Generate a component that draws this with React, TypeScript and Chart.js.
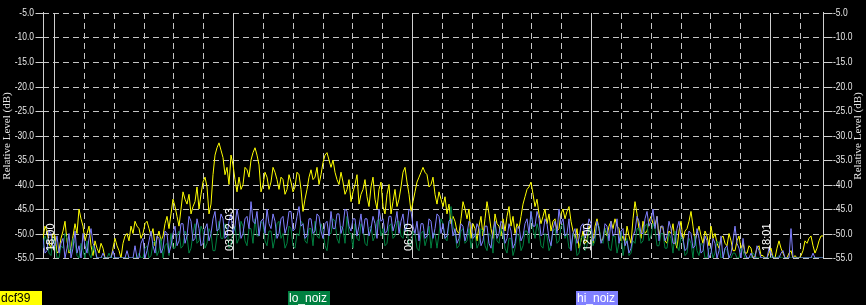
import React, { useEffect, useRef } from "react";
import { Chart, registerables } from "chart.js";

Chart.register(...registerables);

// ---- data ----
const seriesNames = ["dcf39", "lo_noiz", "hi_noiz"];
const seriesColors = ["#ffff00", "#008040", "#8080ff"];
const legendTextColors = ["#000000", "#ffffff", "#ffffff"];

// sample times: hours counted from midnight of the day before (one sample every ~4 min)
const startHour = 17.631;
const stepHours = 0.06704;

const dcf39 = [
  -51, -48.5, -49.5, -52, -53, -50, -50.5, -54, -53.5, -51, -49.5, -47.5, -51.5, -54, -53, -50.5, -48, -50, -45, -47,
  -48.5, -51.5, -50, -48.5, -52.5, -54.5, -51.5, -53, -54, -52, -53, -55, -55, -55, -55, -53, -51, -52.5, -53.5, -55,
  -52, -50.5, -50, -51.5, -48.5, -50, -47.5, -48.5, -49, -51, -50, -48, -47.5, -49, -50.5, -49, -52.5, -51, -49.5, -51.5,
  -50.5, -48, -46.5, -49, -46, -43, -44.5, -46.5, -48.5, -45, -41.5, -43, -44, -42, -46, -44.5, -43.5, -40.5, -45, -42,
  -39.5, -38.5, -40.5, -46, -44, -38, -34, -32.5, -31.5, -33, -34.5, -38, -36.5, -40, -34, -36, -39, -41.5, -38.5, -41,
  -40, -36.5, -37, -38.5, -35, -33.5, -32.5, -34, -36, -41.5, -40, -37.5, -38.5, -41, -39.5, -36.5, -37.5, -39, -41, -38.5,
  -39, -42, -41, -38, -39.5, -41.5, -40.5, -37.5, -38, -41, -45.5, -43, -41, -38.5, -37, -39, -38.5, -36.5, -40, -38,
  -35.5, -34, -33.5, -35, -36.5, -35, -37.5, -39, -40, -37.5, -39.5, -42, -41, -39, -43.5, -41.5, -40, -38, -44, -42,
  -41, -39, -42.5, -44.5, -40.5, -38.5, -43, -45, -41, -39.5, -44.5, -46, -42, -40, -46, -43.5, -41, -44.5, -43, -40.5,
  -37.5, -36.5, -39.5, -42, -45.5, -43.5, -41.5, -39.5, -38.5, -37.5, -36.5, -37.5, -38, -40.5, -40, -38.5, -42, -44, -41.5, -43,
  -44.5, -42.5, -46, -44, -48, -46.5, -47.5, -49.5, -50, -47, -43.5, -45, -47, -45, -51, -48, -49, -51.5, -48.5, -46.5,
  -50.5, -47, -43.5, -46, -49, -51, -46, -48, -48.5, -50.5, -47, -49.5, -46.5, -44.5, -48.5, -46.5, -50, -48, -49, -46.5,
  -44, -42.5, -41, -40.5, -39.5, -42, -44.5, -43, -46, -48, -46.5, -45, -48, -46, -49.5, -47.5, -47, -49.5, -49, -46,
  -45, -47, -45.5, -44.5, -47.5, -49.5, -51, -49, -53, -51.5, -49.5, -52, -51.5, -48.5, -50, -52, -48.5, -47, -49, -51.5,
  -51, -49, -50.5, -48.5, -47.5, -49, -47, -48.5, -49, -51.5, -50.5, -52, -48.5, -50.5, -52, -47, -43.5, -46, -49, -51,
  -47.5, -50, -49.5, -47.5, -46.5, -48, -48.5, -46.5, -50.5, -48.5, -49, -51.5, -52, -49.5, -50, -48, -51.5, -53, -49.5, -47.5,
  -51.5, -49.5, -49, -47.5, -45.5, -48.5, -51.5, -50, -48.5, -50.5, -52, -49.5, -50.5, -52.5, -48.5, -51, -50, -52, -53, -51,
  -50.5, -52, -52.5, -50, -51.5, -53.5, -53.5, -51.5, -50.5, -53, -52, -54, -54, -52.5, -53, -55, -54.5, -53, -52.5, -54.5,
  -54.5, -55, -55, -54, -53, -55, -55, -53, -51.5, -53, -54, -55, -55, -54, -53.5, -55, -54.5, -55, -55, -54.5,
  -53.5, -51.5, -52, -51, -50.5, -52.5, -54, -53, -51.5, -50.5,
  -50.5,
];

const loNoiz = [
  -53, -50.5, -51.5, -54, -54.5, -51, -52, -55, -55, -52.5, -53, -50, -51, -53.5, -54, -51, -52, -54.5, -55, -52,
  -53.5, -55, -51.5, -54, -55, -52.5, -54, -55, -55, -55, -55, -55, -55, -54, -55, -55, -55, -55, -55, -55,
  -55, -55, -55, -55, -55, -55, -55, -55, -54, -55, -55, -53, -52.5, -55, -54.5, -52, -51.5, -54.5, -53.5, -51,
  -55, -52.5, -52, -54.5, -50, -53, -53, -50.5, -49.5, -53, -52.5, -49.5, -50.5, -54, -53, -50, -48, -52, -51.5, -48.5,
  -49.5, -53, -52, -49, -50, -53.5, -53.5, -50.5, -47.5, -51, -51, -48, -49, -53, -52.5, -49.5, -48.5, -52, -51, -47.5,
  -48.5, -51.5, -52.5, -49, -49, -52, -47, -50.5, -50.5, -47.5, -48, -51.5, -52.5, -49.5, -49.5, -53, -51, -48, -47.5, -51,
  -50, -53, -52, -48.5, -49, -52.5, -53, -50, -50.5, -47.5, -48, -51.5, -52, -49, -49, -52.5, -47.5, -50.5, -51, -48,
  -49.5, -52.5, -53.5, -50, -50, -47, -47.5, -51, -52, -48.5, -49, -52, -46.5, -50, -50, -53, -48, -51, -51.5, -48,
  -49, -52, -52.5, -49, -48.5, -51.5, -50.5, -47.5, -47, -50.5, -49, -52.5, -52, -48.5, -48, -51, -50.5, -47.5, -47.5, -50.5,
  -51, -48, -49, -52.5, -52.5, -49.5, -50, -53, -53.5, -50, -49.5, -52.5, -51, -48.5, -53, -50, -50, -53, -50, -47,
  -48, -51, -51.5, -48, -44.5, -48.5, -50, -53, -52.5, -49.5, -49, -52, -51.5, -49, -53, -50.5, -50, -53, -52, -49,
  -49.5, -52.5, -53.5, -50, -50.5, -54, -48, -51.5, -52, -49, -50, -53, -54, -51, -51, -54.5, -53, -50, -50.5, -53.5,
  -52.5, -49.5, -49.5, -52, -45.5, -49, -51, -48, -49.5, -52.5, -53, -50, -50.5, -53.5, -52.5, -49.5, -49, -52, -51.5, -48.5,
  -48, -51, -50, -53, -53, -50, -51, -54.5, -54, -51, -50.5, -53.5, -52.5, -49, -49.5, -52.5, -51.5, -48, -48.5, -51.5,
  -52, -49, -50, -53, -53.5, -50.5, -50.5, -54, -52, -49.5, -54.5, -52, -51, -54.5, -54, -51.5, -52, -49, -49, -52,
  -51.5, -48.5, -48, -51.5, -50.5, -48, -49, -52.5, -52.5, -50, -50, -53, -53, -50, -51, -54, -49.5, -52.5, -53.5, -50.5,
  -51.5, -54.5, -54, -51, -52, -55, -50.5, -53.5, -54.5, -52, -52.5, -55, -55, -53, -53, -55, -54, -51.5, -52, -55,
  -55, -53, -53.5, -55, -55, -54, -54, -55, -55, -53, -53.5, -55, -55, -55, -55, -54, -54.5, -55, -55, -55,
  -55, -55, -55, -55, -55, -54.5, -55, -55, -54.5, -55, -55, -55, -55, -55, -55, -55, -55, -55, -55, -55,
  -55, -55, -55, -55, -55, -55, -55, -55, -55, -55,
  -55,
];

const hiNoiz = [
  -51, -54, -53.5, -49.5, -50, -53, -52.5, -50.5, -54, -52, -51, -55, -53, -50, -55, -53, -49.5, -54, -52.5, -55,
  -50, -52.5, -54, -51, -49, -52, -53, -55, -55, -55, -54, -55, -55, -55, -55, -53.5, -55, -55, -55, -55,
  -55, -55, -53.5, -55, -55, -55, -52.5, -55, -55, -52, -51, -55, -53.5, -51.5, -49.5, -52.5, -54, -50.5, -51, -54,
  -53, -49.5, -50, -54, -52.5, -50, -48.5, -52.5, -51.5, -48, -48, -52, -50.5, -46.5, -47.5, -51.5, -51, -47, -49, -52.5,
  -52, -49, -48, -51.5, -50, -47, -45.5, -49.5, -49, -46, -47, -51, -50.5, -47.5, -46, -50, -48.5, -45, -47.5, -51,
  -50, -47, -46.5, -49, -43.5, -47.5, -48, -45.5, -50.5, -47.5, -47, -50, -45, -48, -49, -46, -47.5, -51, -50, -47,
  -46.5, -50, -48.5, -45.5, -45.5, -49.5, -49, -46.5, -44.5, -48.5, -48, -51, -50.5, -47, -47, -50, -49.5, -46, -46.5, -49.5,
  -51, -48, -47.5, -50.5, -45.5, -49, -49, -46, -46, -50, -48.5, -45, -45.5, -48.5, -49.5, -47, -47, -50.5, -48.5, -46,
  -50, -47, -47, -50.5, -49, -46.5, -48, -51, -45, -47.5, -47, -50, -49.5, -46.5, -46.5, -49.5, -48, -45.5, -50, -47.5,
  -46, -49.5, -48.5, -45, -45.5, -48.5, -50, -47.5, -51.5, -48, -48, -51, -50.5, -47, -47.5, -51, -49, -46, -46.5, -50,
  -48, -51, -50.5, -47.5, -47, -50.5, -49, -52, -51, -48, -48.5, -51.5, -50, -47.5, -48, -51, -50.5, -48, -49, -52.5,
  -51.5, -48.5, -48.5, -52, -53, -49.5, -47.5, -51, -50, -47.5, -48, -52, -51, -48, -49.5, -53, -52, -49, -48.5, -51.5,
  -50.5, -48, -47, -50, -45.5, -48.5, -48.5, -45.5, -47, -50.5, -50, -47, -48, -51, -52.5, -49, -47.5, -50, -45, -48,
  -47, -50.5, -50, -47, -53.5, -50, -49, -52, -51, -48.5, -48, -51, -49.5, -47, -48, -51.5, -50.5, -47.5, -49, -52,
  -51, -48, -48.5, -51.5, -47.5, -50.5, -50, -47, -52, -49.5, -49, -52.5, -51.5, -54, -53, -50.5, -49.5, -46.5, -47.5, -50,
  -50, -47, -45.5, -48.5, -47.5, -45, -49, -46.5, -51.5, -48.5, -48.5, -51.5, -50.5, -47.5, -49, -52, -52, -49, -47.5, -50.5,
  -51, -53.5, -53, -49.5, -50, -53, -52.5, -49, -51, -54, -53.5, -50.5, -51.5, -55, -54, -51, -52, -55, -53.5, -50.5,
  -55, -53, -52.5, -55, -54, -51.5, -48.5, -52, -53, -55, -51, -54, -55, -55, -54, -55, -55, -52.5, -53.5, -55,
  -55, -55, -55, -53, -54, -55, -55, -55, -55, -54, -53.5, -55, -55, -55, -49, -55, -55, -55, -55, -55,
  -55, -55, -55, -55, -55, -54, -55, -55, -55, -55,
  -55,
];

const yMin = -55;
const yMax = -5;
const yTicks = [-5, -10, -15, -20, -25, -30, -35, -40, -45, -50, -55];
const majorHours = [18, 24, 30, 36, 42];
const majorLabels = ["18:00", "03.02.03", "06:00", "12:00", "18:01"];
const axisTitle = "Relative Level (dB)";

const toPoints = (arr: number[]) =>
  arr.map((v, i) => ({ x: startHour + i * stepHours, y: v }));

const GRID = "#c4c4c4";
const TEXT = "#e6e6e6";

const scopePlugin = {
  id: "scopePlugin",
  beforeDraw(chart: any) {
    const { ctx, width, height } = chart;
    ctx.save();
    ctx.fillStyle = "#000";
    ctx.fillRect(0, 0, width, height);
    ctx.restore();
  },
  beforeDatasetsDraw(chart: any) {
    const { ctx, chartArea: a, scales } = chart;
    const x = scales.x;
    const y = scales.y;
    ctx.save();
    ctx.lineWidth = 1;
    ctx.strokeStyle = GRID;
    ctx.setLineDash([6, 4]);
    for (const v of yTicks) {
      const py = Math.round(y.getPixelForValue(v)) + 0.5;
      ctx.beginPath();
      ctx.moveTo(a.left, py);
      ctx.lineTo(a.right, py);
      ctx.stroke();
    }
    for (let h = Math.ceil(x.min); h <= x.max; h++) {
      const px = Math.round(x.getPixelForValue(h)) + 0.5;
      const major = majorHours.includes(h);
      ctx.setLineDash(major ? [] : [6, 4]);
      ctx.strokeStyle = major ? "#d0d0d0" : GRID;
      ctx.beginPath();
      ctx.moveTo(px, a.top);
      ctx.lineTo(px, a.bottom);
      ctx.stroke();
    }
    ctx.setLineDash([]);
    ctx.strokeStyle = "#d0d0d0";
    const lx = Math.round(a.left) + 0.5;
    const rx = Math.round(a.right) + 0.5;
    ctx.beginPath();
    ctx.moveTo(lx, a.top - 1);
    ctx.lineTo(lx, a.bottom + 1);
    ctx.moveTo(rx, a.top - 1);
    ctx.lineTo(rx, a.bottom + 1);
    for (const v of yTicks) {
      const py = Math.round(y.getPixelForValue(v)) + 0.5;
      ctx.moveTo(lx - 8, py);
      ctx.lineTo(lx, py);
      ctx.moveTo(rx, py);
      ctx.lineTo(rx + 9, py);
    }
    ctx.stroke();
    ctx.restore();
  },
  afterDatasetsDraw(chart: any) {
    const { ctx, chartArea: a, scales } = chart;
    const x = scales.x;
    const y = scales.y;
    ctx.save();
    // time labels
    ctx.fillStyle = "#ffffff";
    ctx.font = "11px 'Liberation Sans', Arial, sans-serif";
    ctx.textAlign = "left";
    ctx.textBaseline = "alphabetic";
    majorHours.forEach((h, i) => {
      const px = Math.round(x.getPixelForValue(h));
      ctx.save();
      ctx.translate(px, a.bottom - 7);
      ctx.rotate(-Math.PI / 2);
      ctx.fillText(majorLabels[i], 0, 0);
      ctx.restore();
    });
    // y tick labels
    ctx.fillStyle = TEXT;
    ctx.font = "10px 'Liberation Sans', Arial, sans-serif";
    ctx.textBaseline = "middle";
    for (const v of yTicks) {
      const py = Math.round(y.getPixelForValue(v)) + 0.5;
      const lab = v.toFixed(1);
      ctx.save();
      ctx.translate(a.left - 9, py);
      ctx.scale(0.85, 1);
      ctx.textAlign = "right";
      ctx.fillText(lab, 0, 0);
      ctx.restore();
      ctx.save();
      ctx.translate(a.right + 10, py);
      ctx.scale(0.85, 1);
      ctx.textAlign = "left";
      ctx.fillText(lab, 0, 0);
      ctx.restore();
    }
    // axis titles
    ctx.font = "11px 'Liberation Serif', 'Times New Roman', serif";
    ctx.textAlign = "center";
    ctx.textBaseline = "middle";
    const cy = (a.top + a.bottom) / 2 + 0.5;
    [7, chart.width - 8].forEach((cx: number) => {
      ctx.save();
      ctx.translate(cx, cy);
      ctx.rotate(-Math.PI / 2);
      ctx.fillText(axisTitle, 0, 0);
      ctx.restore();
    });
    ctx.restore();
  },
  afterDraw(chart: any) {
    const { ctx, width } = chart;
    ctx.save();
    ctx.font = "12px 'Liberation Sans', Arial, sans-serif";
    ctx.textBaseline = "alphabetic";
    ctx.textAlign = "left";
    seriesNames.forEach((name, i) => {
      const bx = Math.round((i * width) / 3) - (i > 0 ? 1 : 0);
      ctx.fillStyle = seriesColors[i];
      ctx.fillRect(bx, 291, 42, 14);
      ctx.fillStyle = legendTextColors[i];
      ctx.fillText(name, bx + 1, 302);
    });
    ctx.restore();
  },
};

export default function App() {
  const canvasRef = useRef<HTMLCanvasElement | null>(null);

  useEffect(() => {
    const canvas = canvasRef.current;
    if (!canvas) return;
    const series = [dcf39, loNoiz, hiNoiz];
    const chart = new Chart(canvas, {
      type: "line",
      data: {
        datasets: series.map((arr, i) => ({
          label: seriesNames[i],
          data: toPoints(arr),
          borderColor: seriesColors[i],
          backgroundColor: seriesColors[i],
          borderWidth: 1,
          pointRadius: 0,
          tension: 0,
          fill: false,
          order: 3 - i,
        })),
      },
      options: {
        animation: false,
        responsive: false,
        devicePixelRatio: 1,
        layout: { padding: { left: 43, right: 43, top: 13, bottom: 47 } },
        scales: {
          x: {
            type: "linear",
            display: false,
            min: startHour,
            max: startHour + (dcf39.length - 1) * stepHours,
          },
          y: { type: "linear", display: false, min: yMin, max: yMax },
        },
        plugins: {
          legend: { display: false },
          tooltip: { enabled: false },
        },
      },
      plugins: [scopePlugin],
    });
    return () => chart.destroy();
  }, []);

  return (
    <div style={{ width: 866, height: 305, background: "#000", overflow: "hidden" }}>
      <style>{`html,body{margin:0;padding:0;background:#000;}`}</style>
      <canvas ref={canvasRef} width={866} height={305} style={{ display: "block" }} />
    </div>
  );
}
